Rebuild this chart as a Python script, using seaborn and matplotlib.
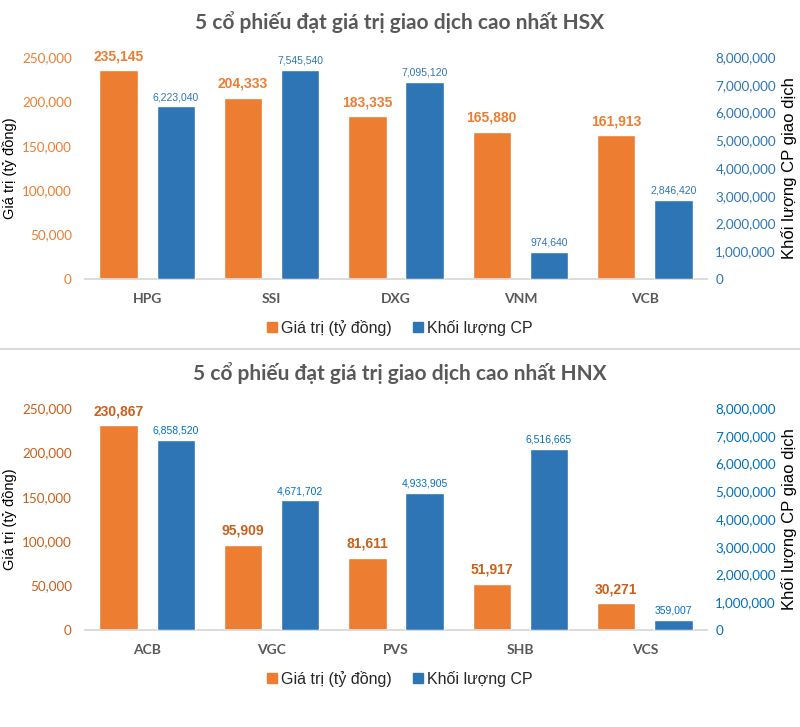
import matplotlib
matplotlib.use("Agg")
import matplotlib.pyplot as plt
import matplotlib.ticker as mticker
from matplotlib import font_manager
from matplotlib.patches import Patch
from matplotlib.lines import Line2D
import pandas as pd
import seaborn as sns

# ==================================================
# DATA
# ==================================================

hsx_tickers = ["HPG", "SSI", "DXG", "VNM", "VCB"]
hsx_value = [235145, 204333, 183335, 165880, 161913]
hsx_volume = [6223040, 7545540, 7095120, 974640, 2846420]

hnx_tickers = ["ACB", "VGC", "PVS", "SHB", "VCS"]
hnx_value = [230867, 95909, 81611, 51917, 30271]
hnx_volume = [6858520, 4671702, 4933905, 6516665, 359007]

series_names = ["Giá trị (tỷ đồng)", "Khối lượng CP"]
left_ticks = [0, 50000, 100000, 150000, 200000, 250000]
right_ticks = [0, 1000000, 2000000, 3000000, 4000000, 5000000, 6000000, 7000000, 8000000]

# ==================================================
# STYLE
# ==================================================

sns.set_theme(style="white")


def pick_font(name, fallback):
    try:
        font_manager.findfont(name, fallback_to_default=False)
        return name
    except ValueError:
        return fallback


MAIN = pick_font("Lato", "DejaVu Sans")
NARROW = pick_font("Liberation Sans Narrow", "Liberation Sans")
ARIAL = pick_font("Liberation Sans", "DejaVu Sans")
plt.rcParams["font.family"] = [MAIN, "DejaVu Sans"]

ORANGE = "#ED7D31"
BLUE = "#2E75B6"
GRAY = "#595959"
LINE = "#D9D9D9"

W, H = 800, 727
fig = plt.figure(figsize=(W / 100, H / 100), dpi=100)


def fx(px):
    return px / W


def fy(px):
    return 1 - px / H


def draw_panel(top, tickers, value, volume, title, left_col, right_col):
    # axes area: x 85..707, y top+57 .. top+279
    ax = fig.add_axes([fx(85), fy(top + 279), fx(622), 222 / H])
    ax2 = ax.twinx()

    df = pd.DataFrame({
        "ma": tickers * 2,
        "series": [series_names[0]] * len(tickers) + [series_names[1]] * len(tickers),
        "v": list(value) + list(volume),
    })
    pal = {series_names[0]: ORANGE, series_names[1]: BLUE}

    sns.barplot(data=df[df["series"] == series_names[0]], x="ma", y="v",
                hue="series", hue_order=series_names, order=tickers,
                palette=pal, width=0.92, gap=0.33, dodge=True,
                errorbar=None, saturation=1, legend=False, ax=ax)
    sns.barplot(data=df[df["series"] == series_names[1]], x="ma", y="v",
                hue="series", hue_order=series_names, order=tickers,
                palette=pal, width=0.92, gap=0.33, dodge=True,
                errorbar=None, saturation=1, legend=False, ax=ax2)

    ax.set_ylim(0, 250000)
    ax2.set_ylim(0, 8000000)
    ax.set_xlim(-0.5, len(tickers) - 0.5)
    ax.set_yticks(left_ticks)
    ax2.set_yticks(right_ticks)
    fmt = mticker.FuncFormatter(lambda v, p: f"{v:,.0f}")
    ax.yaxis.set_major_formatter(fmt)
    ax2.yaxis.set_major_formatter(fmt)

    for a in (ax, ax2):
        a.set_xlabel("")
        a.set_ylabel("")
        for s in a.spines.values():
            s.set_visible(False)
        a.grid(False)
    ax.spines["bottom"].set_visible(True)
    ax.spines["bottom"].set_color(LINE)
    ax.spines["bottom"].set_linewidth(1.3)

    ax.tick_params(axis="y", length=0, labelcolor=left_col, labelsize=9.7, pad=9.5)
    ax2.tick_params(axis="y", length=0, labelcolor=right_col, labelsize=9.7, pad=6)
    ax.tick_params(axis="x", length=0, labelcolor=GRAY, labelsize=10, pad=10)
    for lbl in ax.get_xticklabels():
        lbl.set_fontweight("bold")

    for c in ax.containers:
        ax.bar_label(c, fmt="{:,.0f}", padding=5, color=left_col,
                     fontsize=10, fontweight="bold", family=NARROW)
    for c in ax2.containers:
        ax2.bar_label(c, fmt="{:,.0f}", padding=3, color=right_col,
                      fontsize=7.5, family=NARROW)

    fig.text(0.5, fy(top + 22), title, ha="center", va="center",
             fontsize=15, fontweight="bold", color=GRAY)
    fig.text(fx(10), fy(top + 168), "Giá trị (tỷ đồng)", rotation=90,
             ha="center", va="center", fontsize=10.5, color="black", family=ARIAL)
    fig.text(fx(789), fy(top + 168), "Khối lượng CP giao dịch", rotation=90,
             ha="center", va="center", fontsize=12, color="black", family=ARIAL)

    handles = [Patch(color=ORANGE), Patch(color=BLUE)]
    fig.legend(handles, series_names, loc="center",
               bbox_to_anchor=(0.5, fy(top + 328)), ncol=2, frameon=False,
               handlelength=0.6, handleheight=0.6, handletextpad=0.3,
               columnspacing=1.3, prop={"family": NARROW, "size": 11.5})


# ==================================================
# HSX PANEL
# ==================================================

draw_panel(0, hsx_tickers, hsx_value, hsx_volume,
           "5 cổ phiếu đạt giá trị giao dịch cao nhất HSX", ORANGE, BLUE)

# separator
fig.add_artist(Line2D([0, 1], [fy(349), fy(349)], transform=fig.transFigure,
                      color=LINE, lw=1.5))

# ==================================================
# HNX PANEL
# ==================================================

draw_panel(351, hnx_tickers, hnx_value, hnx_volume,
           "5 cổ phiếu đạt giá trị giao dịch cao nhất HNX", "#C8601C", "#0070C0")

plt.savefig("out.png", dpi=100)
